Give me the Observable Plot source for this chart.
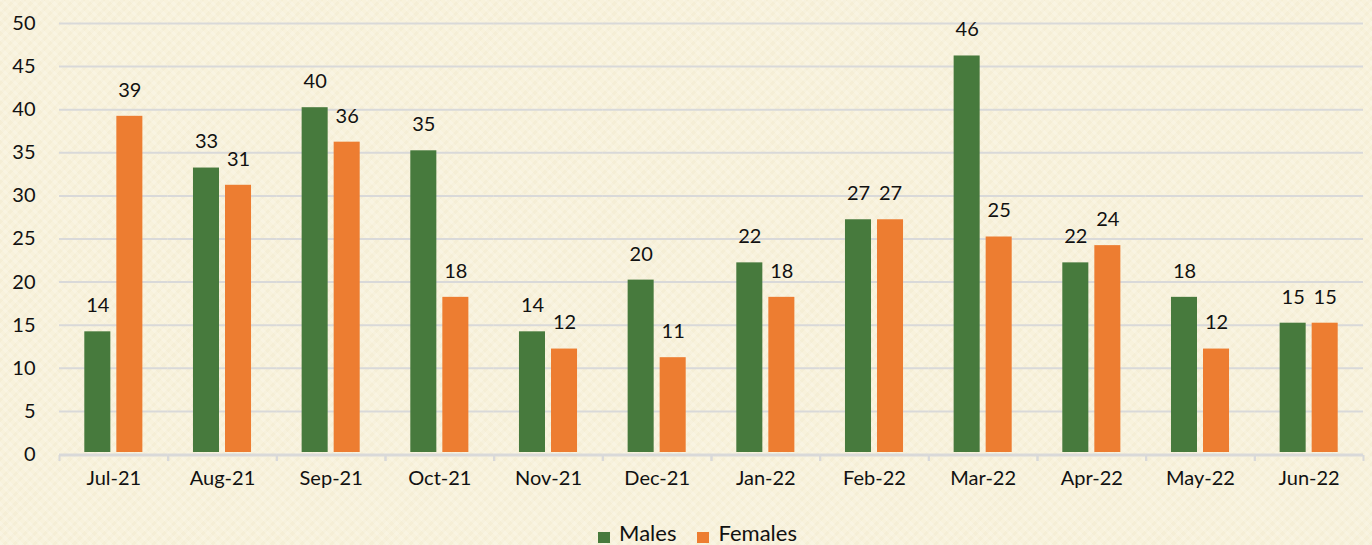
<!DOCTYPE html>
<html>
<head>
<meta charset="utf-8">
<script src="https://cdn.jsdelivr.net/npm/d3@7"></script>
<script src="https://cdn.jsdelivr.net/npm/@observablehq/plot@0.6"></script>
<style>
  html, body { margin: 0; padding: 0; }
  body {
    width: 1372px; height: 545px; overflow: hidden; position: relative;
    background-color: #f8f2dc;
    background-image:
      repeating-linear-gradient(45deg, rgba(255,255,255,0.18) 0 3px, rgba(0,0,0,0) 3px 7px),
      repeating-linear-gradient(-45deg, rgba(220,205,160,0.10) 0 3px, rgba(0,0,0,0) 3px 7px);
    font-family: Lato, "Open Sans", sans-serif;
  }
  #legend {
    position: absolute; left: 0; right: 0; top: 519px; height: 26px;
    display: flex; justify-content: center; align-items: center;
    font-size: 22px; color: #111; gap: 21px; padding-left: 23px; box-sizing: border-box;
  }
  #legend span.sw { display: inline-block; width: 12px; height: 11px; margin-right: 9px; vertical-align: -2px; }
</style>
</head>
<body>
<div id="chart"></div>
<div id="legend"></div>
<script>
const months = ["Jul-21","Aug-21","Sep-21","Oct-21","Nov-21","Dec-21","Jan-22","Feb-22","Mar-22","Apr-22","May-22","Jun-22"];
const males   = [14, 33, 40, 35, 14, 20, 22, 27, 46, 22, 18, 15];
const females = [39, 31, 36, 18, 12, 11, 18, 27, 25, 24, 12, 15];
const seriesNames = ["Males", "Females"];
const seriesColors = ["#477a3d", "#ed7d31"];
const yTicks = [0, 5, 10, 15, 20, 25, 30, 35, 40, 45, 50];

const data = [];
months.forEach((m, i) => {
  data.push({month: m, series: "Males", value: males[i]});
  data.push({month: m, series: "Females", value: females[i]});
});

const W = 1372, H = 500, ML = 59, MR = 9;
const step = (W - ML - MR) / months.length;

const plot = Plot.plot({
  width: W,
  height: H,
  marginLeft: ML,
  marginRight: MR,
  marginTop: 23,
  marginBottom: 46,
  style: {background: "transparent", fontFamily: "Lato, 'Open Sans', sans-serif", fontSize: "20px", color: "#111"},
  fx: {domain: months, padding: 0, round: false, label: null},
  x: {domain: seriesNames, paddingInner: 0.1875, paddingOuter: 0.79, round: false, axis: null},
  y: {domain: [0, 50], ticks: yTicks, label: null},
  color: {domain: seriesNames, range: seriesColors},
  marks: [
    Plot.gridY(yTicks, {stroke: "#d9d9d9", strokeOpacity: 1, strokeWidth: 2}),
    Plot.axisY(yTicks, {tickSize: 0, tickPadding: 24, fontSize: 20, label: null}),
    Plot.ruleY([0], {stroke: "#d9d9d9", strokeWidth: 2, dy: 1}),
    Plot.axisFx({anchor: "bottom", tickSize: 0, tickPadding: 16, fontSize: 20, label: null}),
    Plot.axisFx({anchor: "bottom", tickSize: 6, tickFormat: null, stroke: "#d9d9d9", strokeWidth: 2, dx: -step / 2, dy: 1, label: null}),
    Plot.axisFx(["Jun-22"], {anchor: "bottom", tickSize: 6, tickFormat: null, stroke: "#d9d9d9", strokeWidth: 2, dx: step / 2, dy: 1, label: null}),
    Plot.barY(data, {fx: "month", x: "series", y: "value", fill: "series", dy: -2}),
    Plot.text(data, {fx: "month", x: "series", y: "value", text: d => String(d.value), dy: -28, fontSize: 20, fill: "#111"})
  ]
});
document.getElementById("chart").appendChild(plot);

const legend = document.getElementById("legend");
seriesNames.forEach((s, i) => {
  const item = document.createElement("div");
  item.innerHTML = `<span class="sw" style="background:${seriesColors[i]}"></span>${s}`;
  legend.appendChild(item);
});
</script>
</body>
</html>
